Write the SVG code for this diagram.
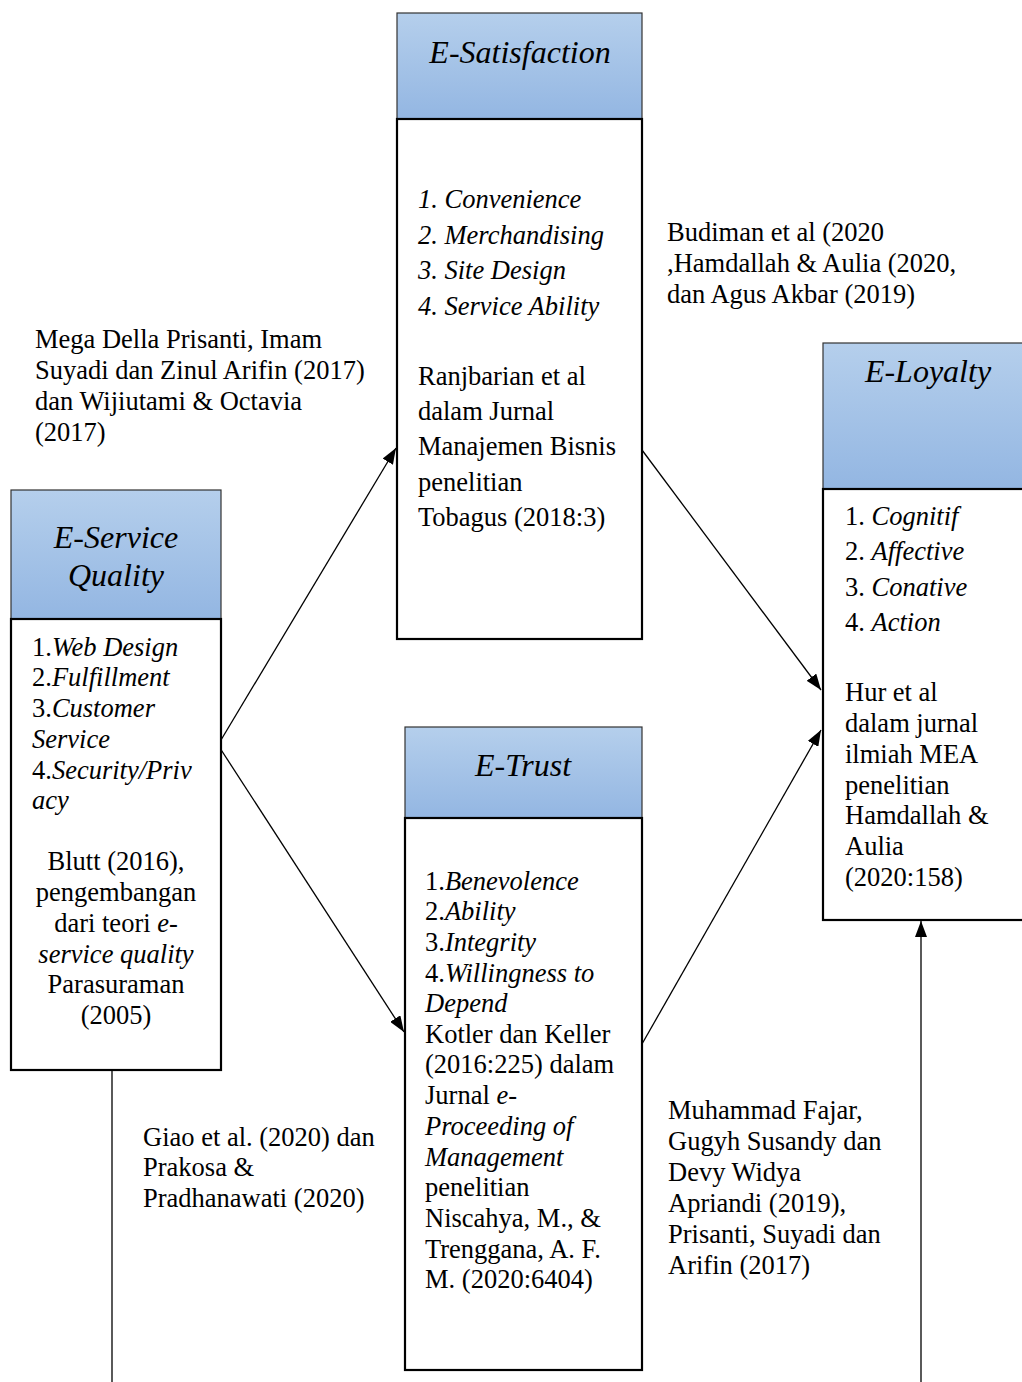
<svg xmlns="http://www.w3.org/2000/svg" width="1022" height="1382" viewBox="0 0 1022 1382">
<style>
text{font-family:"Liberation Serif","Times New Roman",serif;font-size:26.5px;fill:#000}
.t{font-size:32px;font-style:italic}
.i{font-style:italic}
.c{text-anchor:middle}
.hd{fill:url(#g);stroke:#333;stroke-width:1.2}
.bd{fill:#fff;stroke:#000;stroke-width:2.2}
.ln{stroke:#000;stroke-width:1.3;fill:none}
</style>
<defs>
<linearGradient id="g" x1="0" y1="0" x2="0" y2="1">
<stop offset="0" stop-color="#B5CFEC"/>
<stop offset="1" stop-color="#93B6E2"/>
</linearGradient>
<marker id="a" viewBox="0 0 16 12" refX="16" refY="6" markerWidth="16" markerHeight="12" markerUnits="userSpaceOnUse" orient="auto">
<path d="M0,0 L16,6 L0,12 Z" fill="#000"/>
</marker>
</defs>
<rect width="1022" height="1382" fill="#fff"/>

<g id="connectors">
<line class="ln" x1="218" y1="745" x2="396" y2="448" marker-end="url(#a)"/>
<line class="ln" x1="218" y1="745" x2="404" y2="1032" marker-end="url(#a)"/>
<line class="ln" x1="642" y1="450" x2="821" y2="690" marker-end="url(#a)"/>
<line class="ln" x1="642" y1="1044" x2="821" y2="730" marker-end="url(#a)"/>
<line class="ln" x1="921" y1="1382" x2="921" y2="921" marker-end="url(#a)"/>
<line class="ln" x1="112" y1="1071" x2="112" y2="1382"/>
</g>

<g id="e-satisfaction">
<rect class="hd" x="397" y="13" width="245" height="106"/>
<rect class="bd" x="397" y="119" width="245" height="520"/>
<text class="t c" x="520" y="63">E-Satisfaction</text>
<text class="i" x="418" y="208">1. Convenience</text>
<text class="i" x="418" y="244">2. Merchandising</text>
<text class="i" x="418" y="279">3. Site Design</text>
<text class="i" x="418" y="315">4. Service Ability</text>
<text x="418" y="385">Ranjbarian et al</text>
<text x="418" y="420">dalam Jurnal</text>
<text x="418" y="455">Manajemen Bisnis</text>
<text x="418" y="491">penelitian</text>
<text x="418" y="526">Tobagus (2018:3)</text>
</g>

<g id="e-service-quality">
<rect class="hd" x="11" y="490" width="210" height="129"/>
<rect class="bd" x="11" y="619" width="210" height="451"/>
<text class="t c" x="116" y="548">E-Service</text>
<text class="t c" x="116" y="586">Quality</text>
<text x="32" y="656">1.<tspan class="i">Web Design</tspan></text>
<text x="32" y="686">2.<tspan class="i">Fulfillment</tspan></text>
<text x="32" y="717">3.<tspan class="i">Customer</tspan></text>
<text class="i" x="32" y="748">Service</text>
<text x="32" y="779">4.<tspan class="i">Security/Priv</tspan></text>
<text class="i" x="32" y="809">acy</text>
<text class="c" x="116" y="870">Blutt (2016),</text>
<text class="c" x="116" y="901">pengembangan</text>
<text class="c" x="116" y="932">dari teori <tspan class="i">e-</tspan></text>
<text class="c i" x="116" y="963">service quality</text>
<text class="c" x="116" y="993">Parasuraman</text>
<text class="c" x="116" y="1024">(2005)</text>
</g>

<g id="e-trust">
<rect class="hd" x="405" y="727" width="237" height="91"/>
<rect class="bd" x="405" y="818" width="237" height="552"/>
<text class="t c" x="523" y="776">E-Trust</text>
<text x="425" y="890">1.<tspan class="i">Benevolence</tspan></text>
<text x="425" y="920">2.<tspan class="i">Ability</tspan></text>
<text x="425" y="951">3.<tspan class="i">Integrity</tspan></text>
<text x="425" y="982">4.<tspan class="i">Willingness to</tspan></text>
<text class="i" x="425" y="1012">Depend</text>
<text x="425" y="1043">Kotler dan Keller</text>
<text x="425" y="1073">(2016:225) dalam</text>
<text x="425" y="1104">Jurnal <tspan class="i">e-</tspan></text>
<text class="i" x="425" y="1135">Proceeding of</text>
<text class="i" x="425" y="1166">Management</text>
<text x="425" y="1196">penelitian</text>
<text x="425" y="1227">Niscahya, M., &amp;</text>
<text x="425" y="1258">Trenggana, A. F.</text>
<text x="425" y="1288">M. (2020:6404)</text>
</g>

<g id="e-loyalty">
<rect class="hd" x="823" y="343" width="210" height="146"/>
<rect class="bd" x="823" y="489" width="210" height="431"/>
<text class="t c" x="928" y="382">E-Loyalty</text>
<text x="845" y="525">1. <tspan class="i">Cognitif</tspan></text>
<text x="845" y="560">2. <tspan class="i">Affective</tspan></text>
<text x="845" y="596">3. <tspan class="i">Conative</tspan></text>
<text x="845" y="631">4. <tspan class="i">Action</tspan></text>
<text x="845" y="701">Hur et al</text>
<text x="845" y="732">dalam jurnal</text>
<text x="845" y="763">ilmiah MEA</text>
<text x="845" y="794">penelitian</text>
<text x="845" y="824">Hamdallah &amp;</text>
<text x="845" y="855">Aulia</text>
<text x="845" y="886">(2020:158)</text>
</g>

<g id="label-esq-esat">
<text x="35" y="348">Mega Della Prisanti, Imam</text>
<text x="35" y="379">Suyadi dan Zinul Arifin (2017)</text>
<text x="35" y="410">dan Wijiutami &amp; Octavia</text>
<text x="35" y="441">(2017)</text>
</g>

<g id="label-esat-eloy">
<text x="667" y="241">Budiman et al (2020</text>
<text x="667" y="272">,Hamdallah &amp; Aulia (2020,</text>
<text x="667" y="303">dan Agus Akbar (2019)</text>
</g>

<g id="label-esq-etrust">
<text x="143" y="1146">Giao et al. (2020) dan</text>
<text x="143" y="1176">Prakosa &amp;</text>
<text x="143" y="1207">Pradhanawati (2020)</text>
</g>

<g id="label-etrust-eloy">
<text x="668" y="1119">Muhammad Fajar,</text>
<text x="668" y="1150">Gugyh Susandy dan</text>
<text x="668" y="1181">Devy Widya</text>
<text x="668" y="1212">Apriandi (2019),</text>
<text x="668" y="1243">Prisanti, Suyadi dan</text>
<text x="668" y="1274">Arifin (2017)</text>
</g>
</svg>
